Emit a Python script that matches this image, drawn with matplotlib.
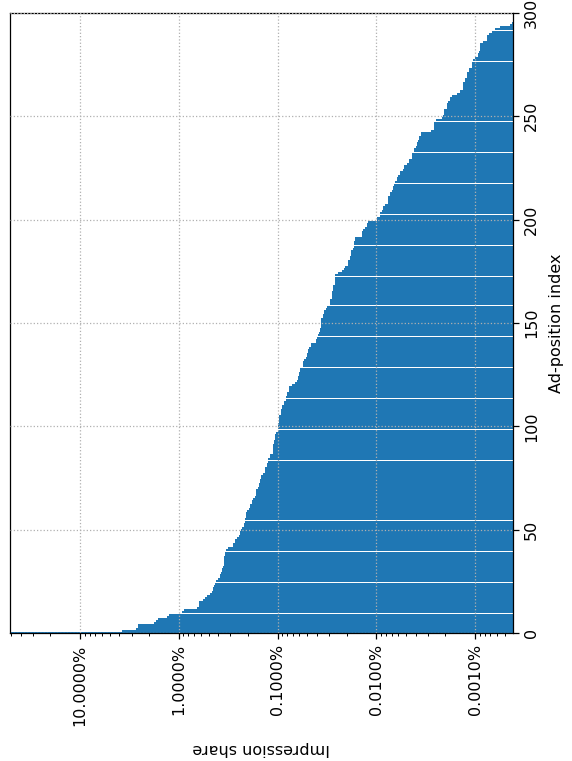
import numpy as np
import matplotlib
matplotlib.use('Agg')
import matplotlib.pyplot as plt
from matplotlib.ticker import FuncFormatter, NullFormatter


# Impression share per ad position (percent)
share_pct = [
    60.0, 3.76, 2.71, 2.59, 2.59, 1.78, 1.70, 1.62, 1.31, 1.26,
    0.927, 0.885, 0.653, 0.623, 0.623, 0.623, 0.568, 0.542, 0.517, 0.483,
    0.461, 0.450, 0.450, 0.440, 0.430, 0.420, 0.400, 0.382, 0.382, 0.373,
    0.365, 0.365, 0.356, 0.348, 0.348, 0.348, 0.348, 0.348, 0.340, 0.340,
    0.332, 0.317, 0.282, 0.282, 0.269, 0.269, 0.257, 0.245, 0.240, 0.240,
    0.234, 0.229, 0.218, 0.218, 0.213, 0.213, 0.208, 0.208, 0.208, 0.204,
    0.194, 0.190, 0.190, 0.181, 0.181, 0.177, 0.169, 0.165, 0.165, 0.165,
    0.158, 0.154, 0.154, 0.150, 0.150, 0.147, 0.147, 0.140, 0.134, 0.134,
    0.134, 0.128, 0.128, 0.125, 0.125, 0.119, 0.119, 0.111, 0.111, 0.111,
    0.111, 0.111, 0.1085, 0.1085, 0.106, 0.106, 0.106, 0.1035, 0.0988, 0.0988,
    0.0988, 0.0988, 0.0966, 0.0966, 0.0966, 0.0966, 0.0922, 0.0922, 0.0922, 0.0900,
    0.0900, 0.0859, 0.0859, 0.0820, 0.0820, 0.0801, 0.0801, 0.0765, 0.0765, 0.0765,
    0.0713, 0.0665, 0.0635, 0.0620, 0.0620, 0.0606, 0.0606, 0.0592, 0.0592, 0.0552,
    0.0552, 0.0552, 0.0539, 0.0514, 0.0503, 0.0503, 0.0491, 0.0491, 0.0480, 0.0458,
    0.0458, 0.0407, 0.0407, 0.0398, 0.0389, 0.0380, 0.0371, 0.0371, 0.0363, 0.0363,
    0.0363, 0.0363, 0.0363, 0.0346, 0.0346, 0.0338, 0.0338, 0.0323, 0.0315, 0.0294,
    0.0294, 0.0294, 0.0281, 0.0281, 0.0281, 0.0281, 0.0274, 0.0274, 0.0274, 0.0262,
    0.0262, 0.0262, 0.0262, 0.0262, 0.0244, 0.0222, 0.0212, 0.0207, 0.0193, 0.0193,
    0.0193, 0.0184, 0.0184, 0.0180, 0.0180, 0.0180, 0.0172, 0.0168, 0.0168, 0.0168,
    0.0164, 0.0164, 0.01394, 0.01394, 0.01394, 0.01362, 0.01300, 0.01241, 0.01241, 0.01212,
    0.00983, 0.00983, 0.00916, 0.00916, 0.00875, 0.00855, 0.00855, 0.00815, 0.00760, 0.00760,
    0.00760, 0.00760, 0.00726, 0.00726, 0.00693, 0.00677, 0.00677, 0.00661, 0.00646, 0.00616,
    0.00616, 0.00602, 0.00575, 0.00575, 0.00536, 0.00524, 0.00524, 0.00488, 0.00466, 0.00466,
    0.00435, 0.00435, 0.00435, 0.00415, 0.00415, 0.00396, 0.00387, 0.00387, 0.00378, 0.00369,
    0.00369, 0.00352, 0.00352, 0.00279, 0.00260, 0.00260, 0.00260, 0.00260, 0.00248, 0.00216,
    0.00211, 0.00206, 0.00206, 0.00206, 0.00192, 0.00192, 0.00192, 0.00188, 0.00179, 0.00179,
    0.00171, 0.00152, 0.00142, 0.00132, 0.00132, 0.00132, 0.00132, 0.00126, 0.00126, 0.001205,
    0.001205, 0.001205, 0.00115, 0.00115, 0.00107, 0.00107, 0.00107, 0.00105, 0.00100, 0.000932,
    0.000932, 0.000911, 0.000890, 0.000890, 0.000890, 0.000890, 0.000830, 0.000756, 0.000756, 0.000756,
    0.000722, 0.000673, 0.000627, 0.000558, 0.000442, 0.000422,
]
position = np.arange(len(share_pct))

share_range = (51.2, 0.000412)   # log axis shown inverted, large at left
index_ticks = [0, 50, 100, 150, 200, 250, 300]

# ─── FIGURE (chart drawn turned on its side) ─────────────
fig = plt.figure(figsize=(5.72, 7.61), dpi=100)
ax = fig.add_axes([0.0175, 0.168, 0.8795, 0.815])

ax.barh(position, share_pct, height=0.97, color='#1f77b4')

ax.set_xscale('log')
ax.set_xlim(*share_range)
ax.set_ylim(0, 300)
ax.set_yticks(index_ticks)

ax.xaxis.set_major_formatter(FuncFormatter(lambda v, _: f'{v:.4f}%'))
ax.xaxis.set_minor_formatter(NullFormatter())

ax.yaxis.tick_right()
ax.yaxis.set_label_position('right')
ax.tick_params(axis='both', which='major', length=4, width=0.9, pad=4)
ax.tick_params(axis='both', which='minor', length=2.3, width=0.7)
ax.tick_params(axis='y', labelsize=11.5, labelrotation=90)
ax.tick_params(axis='x', which='major', labelsize=11.5, labelrotation=90)
for lab in ax.get_yticklabels():
    lab.set_va('center')
for sp in ax.spines.values():
    sp.set_linewidth(0.9)

ax.grid(True, which='major', linestyle=':', color='#b0b0b0', linewidth=0.9)
ax.set_axisbelow(False)

ax.set_ylabel('Ad-position index', fontsize=11.5, rotation=90, labelpad=7)
ax.set_xlabel('Impression share', fontsize=11.5, rotation=180, labelpad=11)

plt.savefig('out.png', dpi=100)
